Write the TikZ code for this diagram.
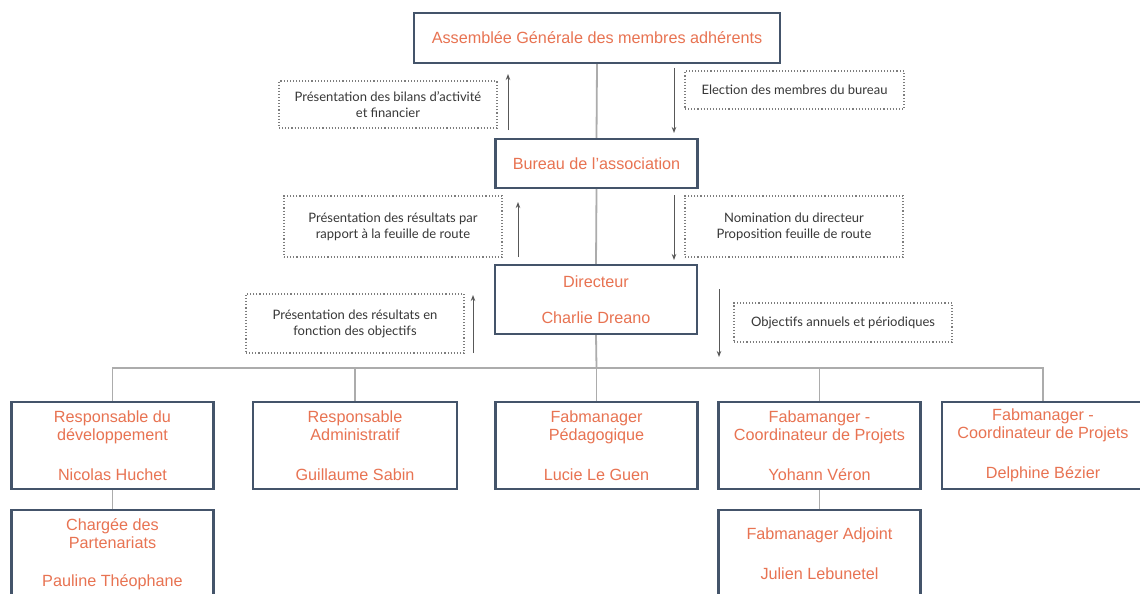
\documentclass[tikz,border=0pt]{standalone}
\usepackage{fontspec}
\setmainfont{Liberation Sans}
\newfontfamily\notefont{Lato}
\usetikzlibrary{arrows.meta}
\definecolor{boxline}{RGB}{68,84,106}
\definecolor{boxtext}{RGB}{232,115,82}
\definecolor{linkgray}{RGB}{172,172,172}
\definecolor{notegray}{RGB}{125,125,125}
\definecolor{notetext}{RGB}{55,55,55}
\tikzset{
  orgbox/.style={draw=boxline, line width=2.4pt, fill=white, text=boxtext, align=center,
    font=\fontsize{16.2}{18}\selectfont, minimum width=202pt, minimum height=87pt, inner sep=0pt},
  notebox/.style={draw=notegray, dotted, line width=1.1pt, text=notetext, align=center,
    font=\notefont\fontsize{13}{16}\selectfont, minimum width=218pt, inner sep=0pt},
  link/.style={draw=linkgray, line width=1.8pt},
  flow/.style={draw=notegray!70!black, line width=1pt, -{Stealth[length=6pt,width=4.5pt]}}
}

\begin{document}
\begin{tikzpicture}[x=1pt,y=-1pt]
  \path[fill=white] (0,0) rectangle (1140,594);
  \useasboundingbox (0,0) rectangle (1140,594);

  \node[orgbox, minimum width=366pt, minimum height=50pt] (ag) at (597,38) {Assemblée Générale des membres adhérents};
  \node[orgbox, minimum height=49pt] (bureau) at (596.5,163.5) {Bureau de l’association};
  \node[orgbox, minimum height=69pt] (dir) at (596,299.5) {Directeur\\[18pt]Charlie Dreano};

  \node[orgbox] (dev) at (112.5,445.5) {Responsable du\\développement\\[22pt]Nicolas Huchet};
  \node[orgbox, minimum width=204pt] (admin) at (355,445.5) {Responsable\\Administratif\\[22pt]Guillaume Sabin};
  \node[orgbox] (peda) at (596.5,445.5) {Fabmanager\\Pédagogique\\[22pt]Lucie Le Guen};
  \node[orgbox] (coordA) at (819.5,445.5) {Fabamanger -\\Coordinateur de Projets\\[22pt]Yohann Véron};
  \node[orgbox] (coordB) at (1043,445.5) {Fabmanager -\\Coordinateur de Projets\\[22pt]Delphine Bézier};
  \node[orgbox, minimum height=88pt] (parten) at (112.5,554) {Chargée des\\Partenariats\\[20pt]Pauline Théophane};
  \node[orgbox, minimum height=88pt] (adjoint) at (819.5,554) {Fabmanager Adjoint\\[22pt]Julien Lebunetel};

  \coordinate (bar) at (596.5,368);
  \draw[link] (ag.south) -- (bureau.north);
  \draw[link] (bureau.south) -- (dir.north);
  \draw[link] (dir.south) -- (bar);
  \draw[link] (dev.north) -- (dev.north |- bar) -- (coordB.north |- bar) -- (coordB.north);
  \draw[link] (admin.north) -- (admin.north |- bar);
  \draw[link] (peda.north) -- (peda.north |- bar);
  \draw[link] (coordA.north) -- (coordA.north |- bar);
  \draw[link] (dev.south) -- (parten.north);
  \draw[link] (coordA.south) -- (adjoint.north);

  \node[notebox, minimum height=47pt] (bilan) at (388,104.5) {Présentation des bilans d’activité\\et financier};
  \node[notebox, minimum width=219pt, minimum height=38pt] (election) at (794.5,90) {Election des membres du bureau};
  \node[notebox, minimum height=61pt] (feuille) at (393,226.5) {Présentation des résultats par\\rapport à la feuille de route};
  \node[notebox, minimum height=61pt] (nomination) at (794,226.5) {Nomination du directeur\\Proposition feuille de route};
  \node[notebox, minimum height=59pt] (resultats) at (355,323.5) {Présentation des résultats en\\fonction des objectifs};
  \node[notebox, minimum height=39pt] (objectifs) at (843,322.5) {Objectifs annuels et périodiques};

  \coordinate (upAs) at (508,130);  \coordinate (upAe) at (508,74);
  \coordinate (dnAs) at (674,68);   \coordinate (dnAe) at (674,133);
  \coordinate (upBs) at (518,257);  \coordinate (upBe) at (518,202);
  \coordinate (dnBs) at (674,195);  \coordinate (dnBe) at (674,260);
  \coordinate (upCs) at (473,353);  \coordinate (upCe) at (473,295);
  \coordinate (dnCs) at (719,289);  \coordinate (dnCe) at (719,357);
  \draw[flow] (upAs) -- (upAe);
  \draw[flow] (dnAs) -- (dnAe);
  \draw[flow] (upBs) -- (upBe);
  \draw[flow] (dnBs) -- (dnBe);
  \draw[flow] (upCs) -- (upCe);
  \draw[flow] (dnCs) -- (dnCe);
\end{tikzpicture}
\end{document}
